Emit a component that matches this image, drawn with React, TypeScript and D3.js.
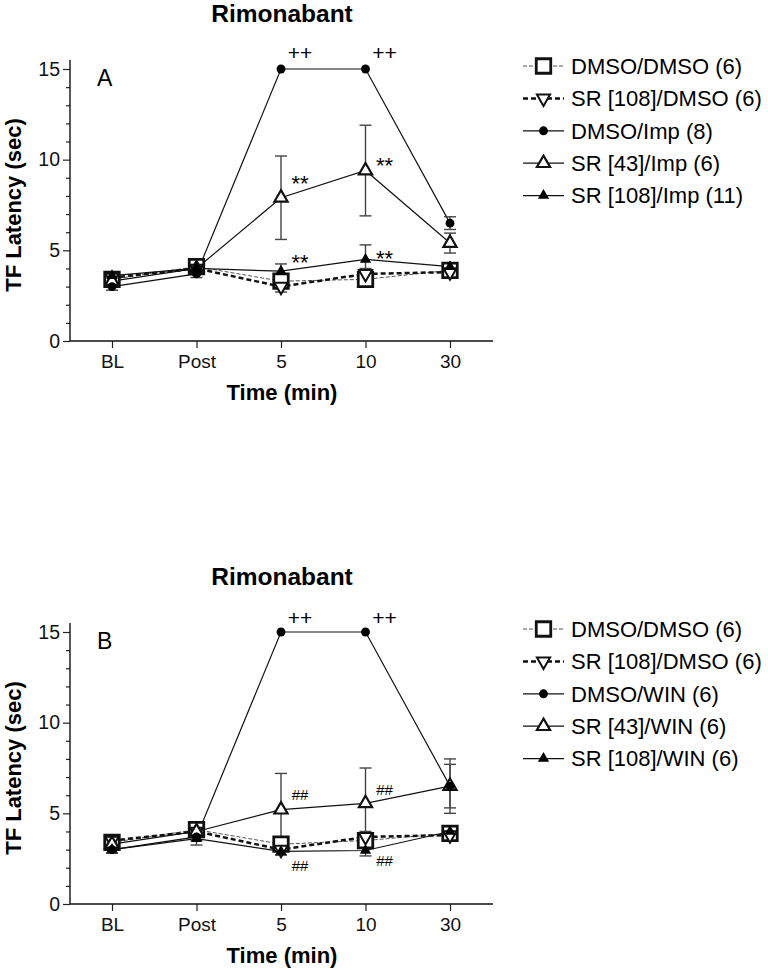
import * as d3 from "d3";
import { useEffect, useRef } from "react";

// x categories and y ticks
const categories = ["BL", "Post", "5", "10", "30"];
const yMajor = [0, 5, 10, 15];
const yMinor = [1, 2, 3, 4, 6, 7, 8, 9, 11, 12, 13, 14];

// panel A (Imp)
const labelsA = ["DMSO/DMSO (6)", "SR [108]/DMSO (6)", "DMSO/Imp (8)", "SR [43]/Imp (6)", "SR [108]/Imp (11)"];
const aDmsoDmso = [3.4, 4.1, 3.3, 3.4, 3.9];
const aSr108Dmso = [3.5, 4.0, 3.0, 3.7, 3.8];
const aDmsoImp = [3.0, 3.7, 15, 15, 6.5];
const aSr43Imp = [3.3, 4.0, 7.9, 9.4, 5.4];
const aSr108Imp = [3.6, 4.0, 3.85, 4.5, 4.1];
const aDmsoDmsoErr = [0.2, 0.2, 0.3, 0.3, 0.2];
const aSr108DmsoErr = [0.2, 0.2, 0.3, 0.3, 0.2];
const aDmsoImpErr = [0.2, 0.2, 0, 0, 0.35];
const aSr43ImpErr = [0.3, 0.2, 2.3, 2.5, 0.55];
const aSr108ImpErr = [0.2, 0.2, 0.4, 0.8, 0.2];
const annotA = [
  { cat: "5", value: 15.9, text: "++" },
  { cat: "10", value: 15.9, text: "++" },
  { cat: "5", value: 9.0, text: "**" },
  { cat: "10", value: 10.0, text: "**" },
  { cat: "5", value: 4.65, text: "**" },
  { cat: "10", value: 4.85, text: "**" },
];

// panel B (WIN)
const labelsB = ["DMSO/DMSO (6)", "SR [108]/DMSO (6)", "DMSO/WIN (6)", "SR [43]/WIN (6)", "SR [108]/WIN (6)"];
const bDmsoDmso = [3.4, 4.1, 3.3, 3.5, 3.9];
const bSr108Dmso = [3.5, 4.0, 3.0, 3.7, 3.8];
const bDmsoWin = [3.0, 3.7, 15, 15, 6.5];
const bSr43Win = [3.3, 4.0, 5.2, 5.55, 6.5];
const bSr108Win = [3.0, 3.6, 2.9, 2.95, 4.0];
const bDmsoDmsoErr = [0.2, 0.2, 0.3, 0.3, 0.2];
const bSr108DmsoErr = [0.2, 0.2, 0.3, 0.3, 0.2];
const bDmsoWinErr = [0.2, 0.2, 0, 0, 1.5];
const bSr43WinErr = [0.3, 0.2, 2.0, 1.95, 1.2];
const bSr108WinErr = [0.2, 0.35, 0.2, 0.3, 0.3];
const annotB = [
  { cat: "5", value: 15.8, text: "++" },
  { cat: "10", value: 15.8, text: "++" },
  { cat: "5", value: 6.0, text: "##" },
  { cat: "10", value: 6.3, text: "##" },
  { cat: "5", value: 2.1, text: "##" },
  { cat: "10", value: 2.4, text: "##" },
];

const FONT = "Arial, 'Liberation Sans', sans-serif";

// line + marker look for each of the 5 groups (same in both panels)
const styles = [
  { symbol: d3.symbolSquare, size: 210, rotate: 0, fill: "white", sw: 2.8, dash: "4,2", lw: 1, lc: "#555" },
  { symbol: d3.symbolTriangle, size: 75, rotate: 180, fill: "white", sw: 2, dash: "5,3", lw: 2.5, lc: "#111" },
  { symbol: d3.symbolCircle, size: 62, rotate: 0, fill: "black", sw: 0, dash: null, lw: 1.2, lc: "#111" },
  { symbol: d3.symbolTriangle, size: 75, rotate: 0, fill: "white", sw: 2.2, dash: null, lw: 1.2, lc: "#111" },
  { symbol: d3.symbolTriangle, size: 55, rotate: 0, fill: "black", sw: 0, dash: null, lw: 1.2, lc: "#111" },
];
// order the markers are painted in (filled circle over the open triangle)
const markerOrder = [0, 1, 3, 2, 4];

interface PanelSpec {
  top: number; // vertical offset of the panel
  letter: string;
  labels: string[];
  series: number[][];
  errors: number[][];
  annots: { cat: string; value: number; text: string }[];
}

const panels: PanelSpec[] = [
  {
    top: 0,
    letter: "A",
    labels: labelsA,
    series: [aDmsoDmso, aSr108Dmso, aDmsoImp, aSr43Imp, aSr108Imp],
    errors: [aDmsoDmsoErr, aSr108DmsoErr, aDmsoImpErr, aSr43ImpErr, aSr108ImpErr],
    annots: annotA,
  },
  {
    top: 563,
    letter: "B",
    labels: labelsB,
    series: [bDmsoDmso, bSr108Dmso, bDmsoWin, bSr43Win, bSr108Win],
    errors: [bDmsoDmsoErr, bSr108DmsoErr, bDmsoWinErr, bSr43WinErr, bSr108WinErr],
    annots: annotB,
  },
];

export default function App() {
  const ref = useRef(null);

  useEffect(() => {
    draw();
  });

  function draw() {
    const svg = d3.select(ref.current);
    svg.selectAll("*").remove();
    svg.append("rect").attr("width", 768).attr("height", 970).attr("fill", "white");

    const x = d3.scalePoint().domain(categories).range([112, 450]);
    const y = d3.scaleLinear().domain([0, 15]).range([341, 69]);
    const axisLeftX = 70;

    panels.forEach((p) => {
      const g = svg
        .append("g")
        .attr("transform", "translate(0," + p.top + ")")
        .style("font-family", FONT);

      // title
      g.append("text")
        .attr("x", 282)
        .attr("y", 21.5)
        .attr("text-anchor", "middle")
        .attr("font-weight", 700)
        .attr("font-size", 24.5)
        .text("Rimonabant");

      // y axis
      const yAxis = g
        .append("g")
        .attr("transform", "translate(" + axisLeftX + ",0)")
        .call(d3.axisLeft(y).tickValues(yMajor).tickSize(7).tickSizeOuter(0).tickPadding(3));
      yAxis.select(".domain").remove();
      yAxis.selectAll("text").attr("font-size", 19.5).attr("font-family", FONT).attr("fill", "#111");
      yAxis.selectAll("line").attr("stroke", "#222").attr("stroke-width", 1.2);
      const yMin = g
        .append("g")
        .attr("transform", "translate(" + axisLeftX + ",0)")
        .call(d3.axisLeft(y).tickValues(yMinor).tickSize(4).tickFormat(() => "").tickSizeOuter(0));
      yMin.select(".domain").remove();
      yMin.selectAll("line").attr("stroke", "#222").attr("stroke-width", 1.2);
      g.append("line")
        .attr("x1", axisLeftX)
        .attr("x2", axisLeftX)
        .attr("y1", 60)
        .attr("y2", y(0))
        .attr("stroke", "#111")
        .attr("stroke-width", 1.4);

      // x axis
      const xAxis = g
        .append("g")
        .attr("transform", "translate(0," + y(0) + ")")
        .call(d3.axisBottom(x).tickSize(7).tickSizeOuter(0).tickPadding(7));
      xAxis.select(".domain").remove();
      xAxis.selectAll("text").attr("font-size", 19).attr("font-family", FONT).attr("fill", "#111");
      xAxis.selectAll("line").attr("stroke", "#222").attr("stroke-width", 1.2);
      g.append("line")
        .attr("x1", axisLeftX)
        .attr("x2", 493)
        .attr("y1", y(0))
        .attr("y2", y(0))
        .attr("stroke", "#111")
        .attr("stroke-width", 1.4);

      // axis labels
      g.append("text")
        .attr("x", 282)
        .attr("y", 400)
        .attr("text-anchor", "middle")
        .attr("font-weight", 700)
        .attr("font-size", 22)
        .text("Time (min)");
      g.append("text")
        .attr("transform", "translate(21,205) rotate(-90)")
        .attr("text-anchor", "middle")
        .attr("font-weight", 700)
        .attr("font-size", 22)
        .text("TF Latency (sec)");

      // panel letter
      g.append("text")
        .attr("x", 97)
        .attr("y", 86)
        .attr("font-size", 23)
        .text(p.letter);

      // lines
      const line = d3
        .line<number>()
        .x((_, i) => x(categories[i]) as number)
        .y((d) => y(d));
      p.series.forEach((s, k) => {
        const st = styles[k];
        g.append("path")
          .datum(s)
          .attr("fill", "none")
          .attr("stroke", st.lc)
          .attr("stroke-width", st.lw)
          .attr("stroke-dasharray", st.dash)
          .attr("d", line);
      });

      // error bars
      p.series.forEach((s, k) => {
        s.forEach((v, i) => {
          const e = p.errors[k][i];
          if (!e) return;
          const cx = x(categories[i]) as number;
          const eg = g.append("g").attr("stroke", "#444").attr("stroke-width", 1.4);
          eg.append("line").attr("x1", cx).attr("x2", cx).attr("y1", y(v - e)).attr("y2", y(v + e));
          [v - e, v + e].forEach((ev) => {
            eg.append("line")
              .attr("x1", cx - 6)
              .attr("x2", cx + 6)
              .attr("y1", y(ev))
              .attr("y2", y(ev));
          });
        });
      });

      // markers
      markerOrder.forEach((k) => {
        const s = p.series[k];
        const st = styles[k];
        const sym = d3.symbol().type(st.symbol).size(st.size);
        g.append("g")
          .selectAll("path")
          .data(s)
          .enter()
          .append("path")
          .attr("d", sym)
          .attr(
            "transform",
            (d, i) => "translate(" + x(categories[i]) + "," + y(d) + ") rotate(" + st.rotate + ")"
          )
          .attr("fill", st.fill)
          .attr("stroke", "#111")
          .attr("stroke-width", st.sw);
      });

      // significance marks
      g.append("g")
        .selectAll("text")
        .data(p.annots)
        .enter()
        .append("text")
        .attr("x", (d) => (x(d.cat) as number) + 19)
        .attr("y", (d) => y(d.value))
        .attr("text-anchor", "middle")
        .attr("font-size", (d) => (d.text === "##" ? 15 : d.text === "**" ? 22 : 21))
        .attr("dy", (d) => (d.text === "**" ? "0.6em" : "0.35em"))
        .text((d) => d.text);

      // legend
      const leg = g
        .append("g")
        .selectAll("g")
        .data(p.labels)
        .enter()
        .append("g")
        .attr("transform", (_, i) => "translate(0," + (66 + i * 32.4) + ")");
      leg
        .append("line")
        .attr("x1", 523)
        .attr("x2", 564)
        .attr("stroke", (_, i) => styles[i].lc)
        .attr("stroke-width", (_, i) => styles[i].lw)
        .attr("stroke-dasharray", (_, i) => styles[i].dash);
      leg
        .append("path")
        .attr("d", (_, i) => d3.symbol().type(styles[i].symbol).size(styles[i].size)())
        .attr("transform", (_, i) => "translate(543.5,0) rotate(" + styles[i].rotate + ")")
        .attr("fill", (_, i) => styles[i].fill)
        .attr("stroke", "#111")
        .attr("stroke-width", (_, i) => styles[i].sw);
      leg
        .append("text")
        .attr("x", 571)
        .attr("dy", "0.35em")
        .attr("font-size", 22)
        .text((d) => d);
    });
  }

  return (
    <svg
      ref={ref}
      width={768}
      height={970}
      style={{ position: "absolute", left: 0, top: 0 }}
    ></svg>
  );
}
